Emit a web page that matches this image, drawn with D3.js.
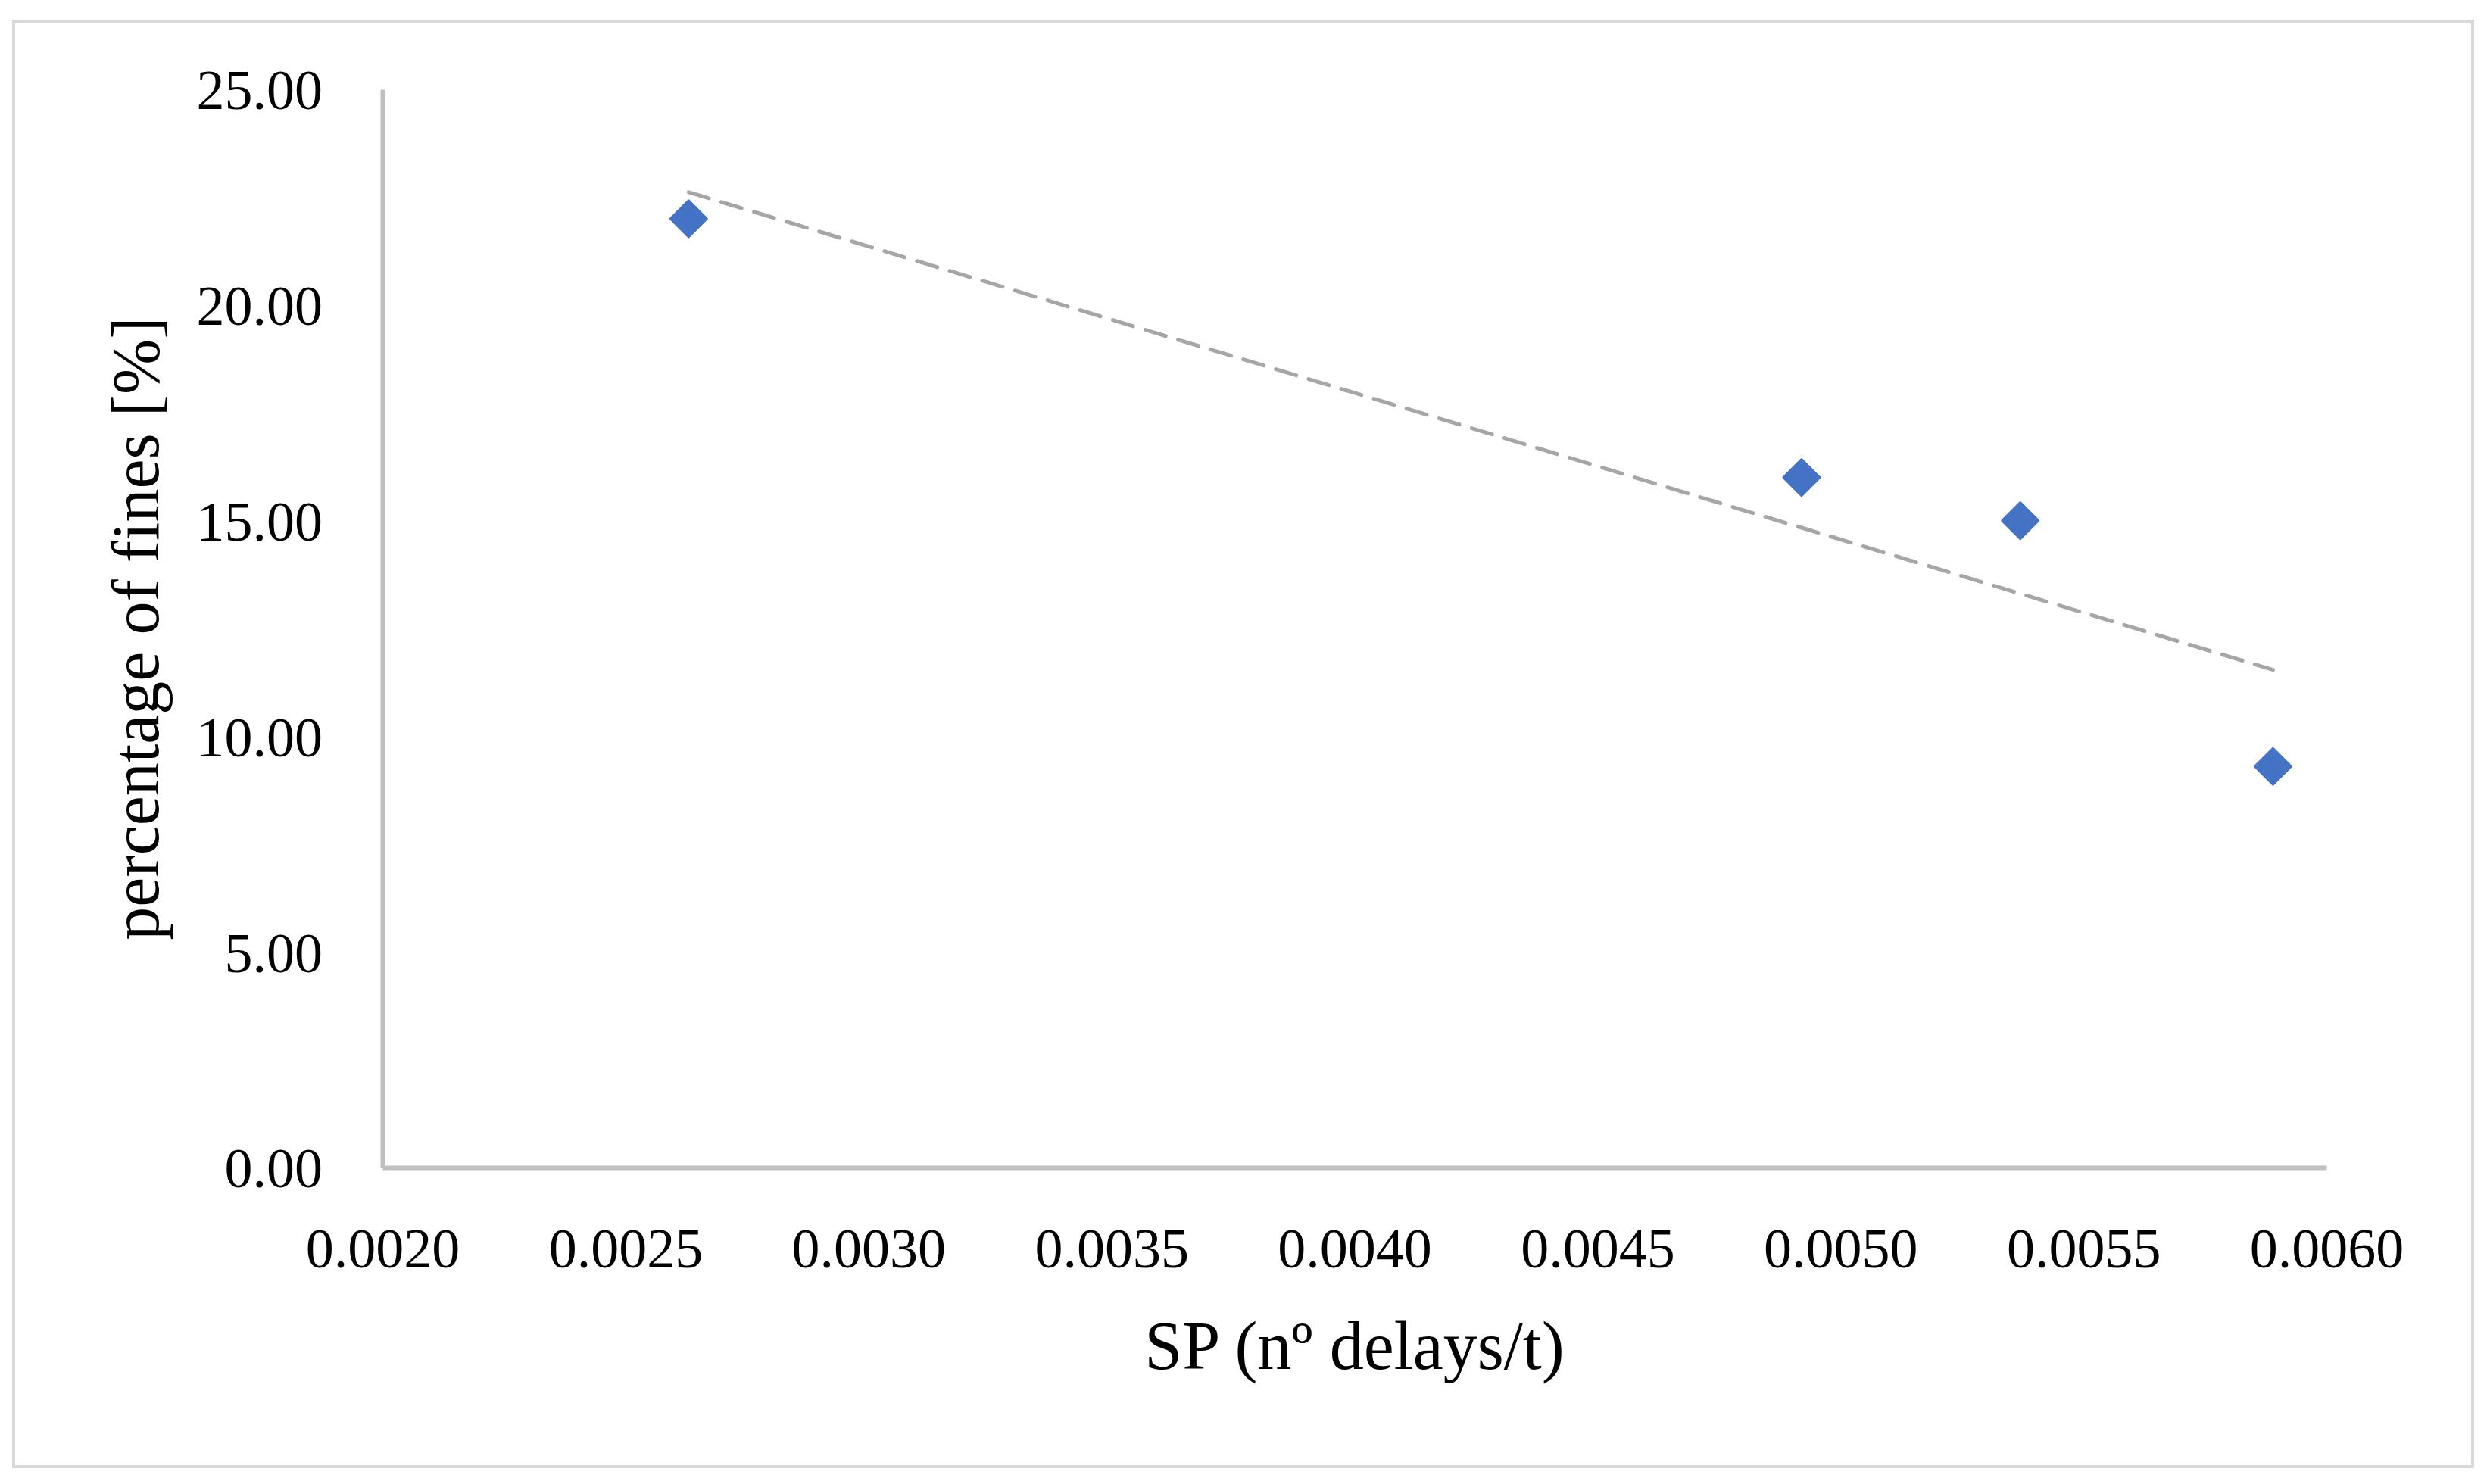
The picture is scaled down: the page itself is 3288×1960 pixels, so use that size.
<!DOCTYPE html>
<html>
<head>
<meta charset="utf-8">
<script src="https://cdn.jsdelivr.net/npm/d3@7"></script>
<style>
  html, body { margin: 0; padding: 0; background: #ffffff; }
  svg { display: block; }
</style>
</head>
<body>
<script>
// ---- data ----
const spValues    = [0.00263, 0.00492, 0.00537, 0.00589];   // SP (nº delays/t)
const finesValues = [22.0, 16.0, 15.0, 9.3];                 // percentage of fines [%]
const xTicks = [0.0020, 0.0025, 0.0030, 0.0035, 0.0040, 0.0045, 0.0050, 0.0055, 0.0060];
const yTicks = [0, 5, 10, 15, 20, 25];
const xTitle = "SP (nº delays/t)";
const yTitle = "percentage of fines [%]";

const W = 3288, H = 1960;
const FONT = "'Palatino Linotype','Book Antiqua',Palatino,'Liberation Serif','Times New Roman',serif";
const plot = { left: 505, right: 3072, top: 118, bottom: 1542 };

const svg = d3.select("body").append("svg")
  .attr("width", W).attr("height", H)
  .attr("viewBox", `0 0 ${W} ${H}`);

svg.append("rect").attr("width", W).attr("height", H).attr("fill", "#ffffff");

// outer chart border
svg.append("rect")
  .attr("x", 18).attr("y", 28)
  .attr("width", 3265 - 18).attr("height", 1937 - 28)
  .attr("fill", "none").attr("stroke", "#d9d9d9").attr("stroke-width", 4);

const x = d3.scaleLinear().domain([0.002, 0.006]).range([plot.left, plot.right]);
const y = d3.scaleLinear().domain([0, 25]).range([plot.bottom, plot.top]);

// x axis
const gx = svg.append("g").attr("transform", `translate(0,${plot.bottom})`)
  .call(d3.axisBottom(x).tickValues(xTicks).tickSize(0).tickSizeOuter(0).tickFormat(d3.format(".4f")));
gx.select(".domain").attr("stroke", "#bfbfbf").attr("stroke-width", 6);
gx.selectAll(".tick line").remove();
gx.selectAll(".tick text")
  .attr("y", 132).attr("dy", null)
  .attr("fill", "#000").style("font-family", FONT).style("font-size", "74px");

// y axis
const gy = svg.append("g").attr("transform", `translate(${plot.left},0)`)
  .call(d3.axisLeft(y).tickValues(yTicks).tickSize(0).tickSizeOuter(0).tickFormat(d3.format(".2f")));
gy.select(".domain").attr("stroke", "#bfbfbf").attr("stroke-width", 6);
gy.selectAll(".tick line").remove();
gy.selectAll(".tick text")
  .attr("x", -79).attr("dy", "0.35em")
  .attr("fill", "#000").style("font-family", FONT).style("font-size", "74px");

// linear trendline (least squares on the data)
const pts = spValues.map((v, i) => ({ x: v, y: finesValues[i] }));
const mx = d3.mean(pts, d => d.x), my = d3.mean(pts, d => d.y);
const slope = d3.sum(pts, d => (d.x - mx) * (d.y - my)) / d3.sum(pts, d => (d.x - mx) * (d.x - mx));
const intercept = my - slope * mx;
const trend = d3.extent(spValues).map(v => ({ x: v, y: intercept + slope * v }));

svg.append("path")
  .datum(trend)
  .attr("d", d3.line().x(d => x(d.x)).y(d => y(d.y)))
  .attr("fill", "none")
  .attr("stroke", "#a6a6a6")
  .attr("stroke-width", 5)
  .attr("stroke-linecap", "round")
  .attr("stroke-dasharray", "28,17");

// markers (diamonds)
const diamond = d3.symbol().type(d3.symbolSquare).size(1150);
svg.append("g").selectAll("path")
  .data(pts)
  .join("path")
  .attr("d", diamond)
  .attr("transform", d => `translate(${x(d.x)},${y(d.y)}) rotate(45)`)
  .attr("fill", "#4472c4")
  .attr("stroke", "#4472c4")
  .attr("stroke-width", 3)
  .attr("stroke-linejoin", "round");

// axis titles
svg.append("text")
  .attr("x", (plot.left + plot.right) / 2).attr("y", 1808)
  .attr("text-anchor", "middle")
  .style("font-family", FONT).style("font-size", "90px").attr("fill", "#000")
  .text(xTitle);

svg.append("text")
  .attr("transform", `translate(209,${(plot.top + plot.bottom) / 2}) rotate(-90)`)
  .attr("text-anchor", "middle")
  .style("font-family", FONT).style("font-size", "88px").attr("fill", "#000")
  .text(yTitle);
</script>
</body>
</html>
